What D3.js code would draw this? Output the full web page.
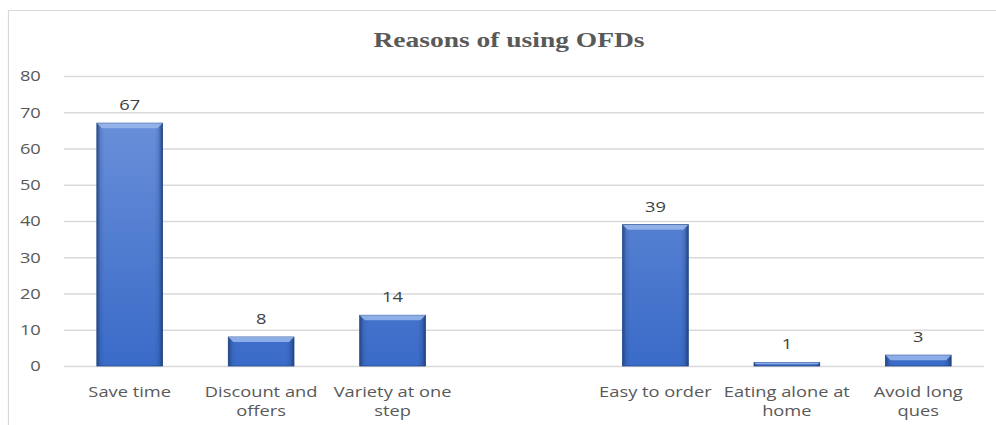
<!DOCTYPE html>
<html>
<head>
<meta charset="utf-8">
<script src="https://cdn.jsdelivr.net/npm/d3@7"></script>
<style>
  body { margin: 0; background: #fff; }
  svg { display: block; }
</style>
</head>
<body>
<svg id="chart" width="996" height="425"></svg>
<script>
var categories = ["Save time", "Discount and offers", "Variety at one step", "", "Easy to order", "Eating alone at home", "Avoid long ques"];
var labelLines = [["Save time"], ["Discount and", "offers"], ["Variety at one", "step"], [], ["Easy to order"], ["Eating alone at", "home"], ["Avoid long", "ques"]];
var values = [67, 8, 14, null, 39, 1, 3];
var yTicks = [0, 10, 20, 30, 40, 50, 60, 70, 80];

var svg = d3.select("#chart");
var margin = {top: 76, left: 64, right: 12, bottom: 59};
var width = 996, height = 425;
var stretch = 1.22; // text in the picture is drawn a bit wide
var font = "Open Sans, sans-serif";

// chart frame
svg.append("path")
  .attr("d", "M8.5,425 V10.5 H996")
  .attr("fill", "none")
  .attr("stroke", "#d9d9d9")
  .attr("stroke-width", 1.2);

svg.append("text")
  .attr("transform", "translate(509,47) scale(1.25,1)")
  .attr("text-anchor", "middle")
  .attr("font-family", "Liberation Serif, serif")
  .attr("font-weight", "bold")
  .attr("font-size", 22)
  .attr("fill", "#595959")
  .text("Reasons of using OFDs");

var xScale = d3.scaleBand()
  .domain(d3.range(categories.length))
  .range([margin.left, width - margin.right])
  .paddingInner(0.5)
  .paddingOuter(0.25);

var yScale = d3.scaleLinear()
  .domain([0, 80])
  .range([height - margin.bottom, margin.top]);

var defs = svg.append("defs");
var grad = defs.append("linearGradient").attr("id", "barGrad")
  .attr("gradientUnits", "userSpaceOnUse")
  .attr("x1", 0).attr("x2", 0).attr("y1", yScale(70)).attr("y2", yScale(0));
grad.append("stop").attr("offset", "0%").attr("stop-color", "#6a90d9");
grad.append("stop").attr("offset", "100%").attr("stop-color", "#3a6bc8");

var edge = defs.append("linearGradient").attr("id", "edgeGrad").attr("x1", 0).attr("x2", 1).attr("y1", 0).attr("y2", 0);
edge.append("stop").attr("offset", "0%").attr("stop-color", "#1f3f7a").attr("stop-opacity", 0.8);
edge.append("stop").attr("offset", "6%").attr("stop-color", "#1f3f7a").attr("stop-opacity", 0.15);
edge.append("stop").attr("offset", "12%").attr("stop-color", "#1f3f7a").attr("stop-opacity", 0);
edge.append("stop").attr("offset", "88%").attr("stop-color", "#1f3f7a").attr("stop-opacity", 0);
edge.append("stop").attr("offset", "94%").attr("stop-color", "#1f3f7a").attr("stop-opacity", 0.2);
edge.append("stop").attr("offset", "100%").attr("stop-color", "#1f3f7a").attr("stop-opacity", 0.9);

var yAxis = d3.axisLeft(yScale).tickValues(yTicks).tickSize(-(width - margin.left - margin.right)).tickPadding(19);
var gy = svg.append("g")
  .attr("class", "y axis")
  .attr("transform", "translate(" + margin.left + ",0)")
  .call(yAxis);
gy.select(".domain").remove();
gy.selectAll("line").attr("stroke", "#d9d9d9").attr("stroke-width", 1.3);
gy.selectAll("text")
  .attr("font-family", font)
  .attr("font-size", 15)
  .attr("fill", "#595959")
  .attr("transform", "scale(" + stretch + ",1)");

var bars = svg.append("g").selectAll("g")
  .data(values.map(function(v, i) { return {v: v, i: i}; }).filter(function(d) { return d.v != null; }))
  .enter().append("g");

bars.append("rect")
  .attr("x", function(d) { return xScale(d.i); })
  .attr("y", function(d) { return yScale(d.v); })
  .attr("width", xScale.bandwidth())
  .attr("height", function(d) { return yScale(0) - yScale(d.v); })
  .attr("fill", "url(#barGrad)")
  .attr("stroke", "#2a4c8c")
  .attr("stroke-width", 0.8);

bars.append("rect")
  .attr("x", function(d) { return xScale(d.i); })
  .attr("y", function(d) { return yScale(d.v); })
  .attr("width", xScale.bandwidth())
  .attr("height", function(d) { return yScale(0) - yScale(d.v); })
  .attr("fill", "url(#edgeGrad)");

// light top bevel
bars.append("path")
  .attr("d", function(d) {
    var x0 = xScale(d.i), x1 = x0 + xScale.bandwidth(), y0 = yScale(d.v);
    var b = Math.min(5, (yScale(0) - y0) / 2);
    return "M" + x0 + "," + y0 + "H" + x1 + "L" + (x1 - b) + "," + (y0 + b) + "H" + (x0 + b) + "Z";
  })
  .attr("fill", "#9ab8ec")
  .attr("opacity", 0.85);

bars.append("text")
  .attr("transform", function(d) {
    return "translate(" + (xScale(d.i) + xScale.bandwidth() / 2) + "," + (yScale(d.v) - 13) + ") scale(" + stretch + ",1)";
  })
  .attr("text-anchor", "middle")
  .attr("font-family", font)
  .attr("font-size", 15)
  .attr("fill", "#404040")
  .text(function(d) { return d.v; });

// category labels
var xl = svg.append("g").selectAll("text")
  .data(labelLines)
  .enter().append("text")
  .attr("text-anchor", "middle")
  .attr("font-family", font)
  .attr("font-size", 15)
  .attr("fill", "#595959")
  .attr("transform", function(d, i) {
    return "translate(" + (xScale(i) + xScale.bandwidth() / 2) + ",397) scale(" + stretch + ",1)";
  });
xl.selectAll("tspan")
  .data(function(d) { return d; })
  .enter().append("tspan")
  .attr("x", 0)
  .attr("dy", function(d, j) { return j === 0 ? 0 : 19; })
  .text(function(d) { return d; });
</script>
</body>
</html>
